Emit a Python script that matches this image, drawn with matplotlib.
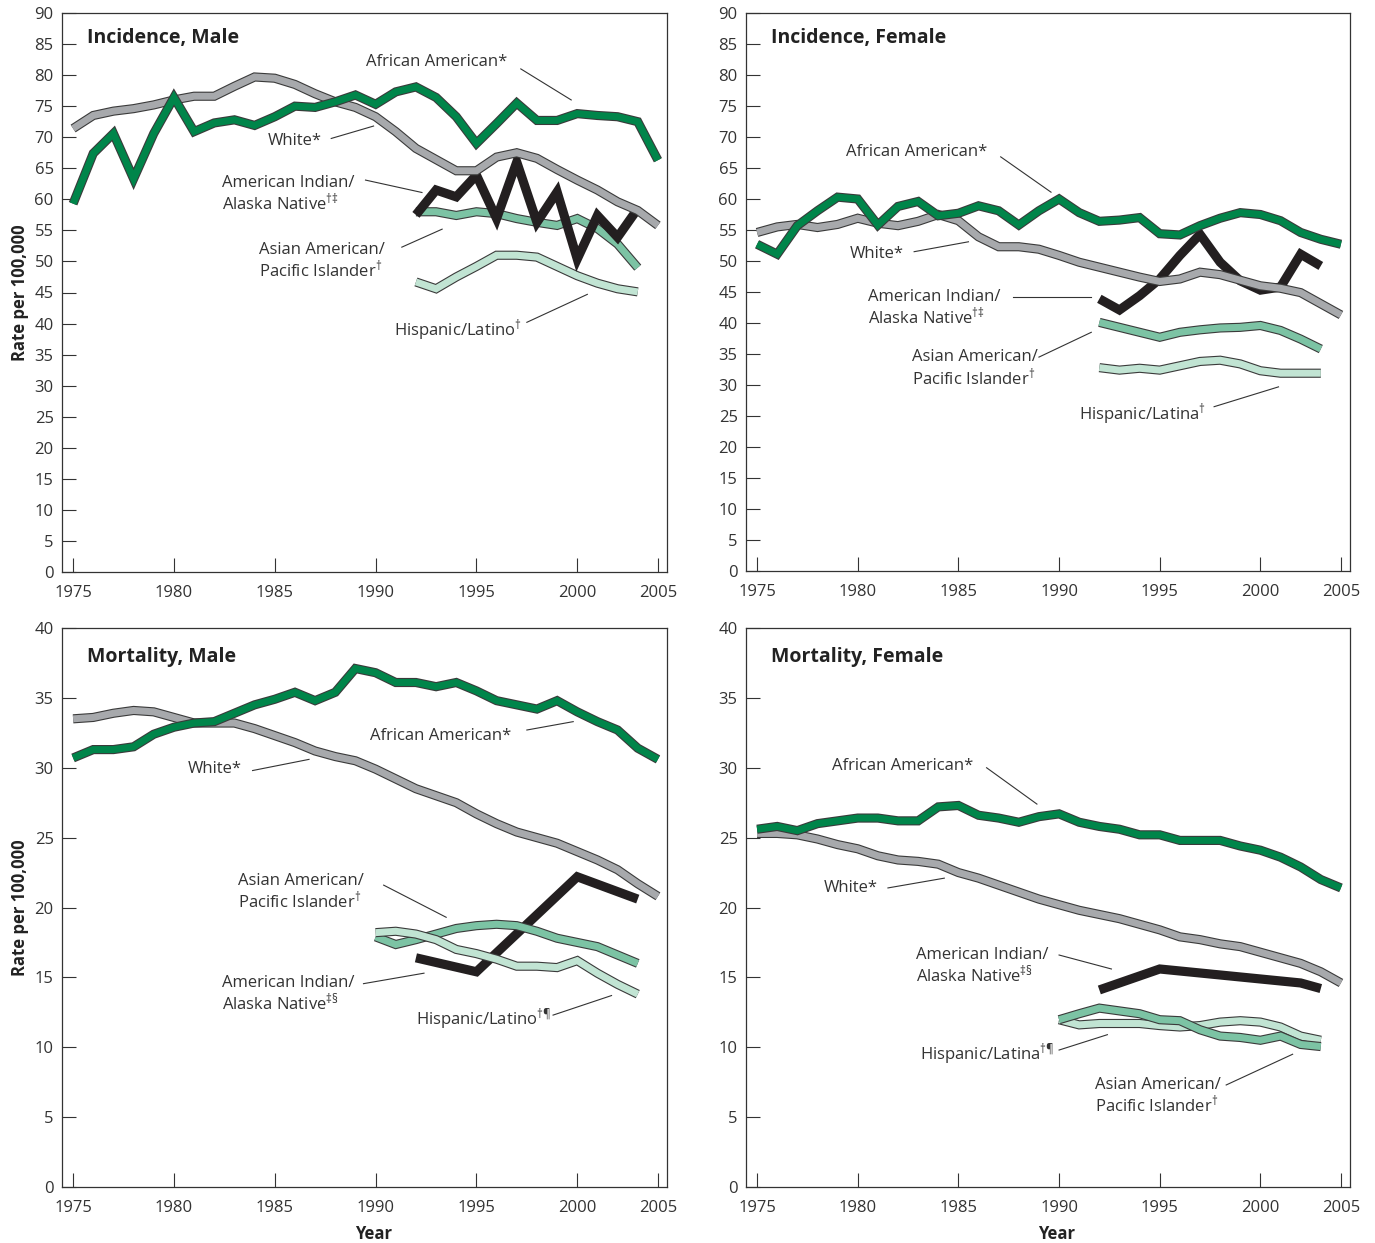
import matplotlib
matplotlib.use("Agg")
import matplotlib.pyplot as plt
import matplotlib.patheffects as pe

plt.rcParams['font.family'] = ['Open Sans', 'DejaVu Sans']
plt.rcParams['mathtext.fontset'] = 'custom'
plt.rcParams['mathtext.rm'] = 'Open Sans'
plt.rcParams['mathtext.it'] = 'Open Sans'
plt.rcParams['mathtext.bf'] = 'Open Sans:bold'

# years
years = list(range(1975, 2005))
years_92 = list(range(1992, 2004))
years_90 = list(range(1990, 2004))

# incidence, male
inc_m_aa = [59.3, 67.4, 70.6, 63.3, 70.6, 76.4, 70.9, 72.3, 72.8, 71.9, 73.3, 75.0, 74.8, 75.7, 76.8,
            75.3, 77.3, 78.1, 76.4, 73.3, 69.0, 72.2, 75.5, 72.7, 72.7, 73.8, 73.5, 73.3, 72.5, 66.3]
inc_m_wh = [71.4, 73.5, 74.2, 74.6, 75.2, 76.0, 76.6, 76.6, 78.2, 79.7, 79.5, 78.5, 77.0, 75.7, 74.8,
            73.3, 70.9, 68.2, 66.4, 64.6, 64.6, 66.8, 67.5, 66.6, 64.8, 63.1, 61.5, 59.6, 58.2, 55.8]
inc_m_ai = [57.5, 61.5, 60.4, 63.9, 56.9, 66.0, 56.3, 61.2, 50.4, 57.4, 53.9, 58.5]
inc_m_as = [58.0, 58.0, 57.4, 58.0, 57.7, 56.9, 56.3, 55.8, 56.9, 55.3, 52.8, 49.0]
inc_m_hi = [46.7, 45.6, 47.5, 49.2, 51.0, 51.0, 50.7, 49.2, 47.7, 46.5, 45.6, 45.1]

# incidence, female
inc_f_aa = [52.7, 51.1, 55.7, 58.1, 60.3, 60.0, 55.8, 58.8, 59.6, 57.3, 57.7, 58.9, 58.1, 55.8, 58.1,
            60.0, 57.8, 56.4, 56.6, 57.0, 54.4, 54.2, 55.7, 56.9, 57.8, 57.5, 56.5, 54.6, 53.5, 52.7]
inc_f_wh = [54.6, 55.5, 55.9, 55.4, 55.9, 56.9, 56.1, 55.7, 56.4, 57.5, 56.5, 53.9, 52.3, 52.3, 51.9,
            50.9, 49.8, 49.0, 48.2, 47.4, 46.7, 47.1, 48.2, 47.8, 46.9, 46.0, 45.6, 44.9, 43.1, 41.3]
inc_f_ai = [43.9, 42.1, 44.4, 47.1, 50.9, 54.3, 49.8, 46.8, 45.3, 45.8, 51.1, 49.2]
inc_f_as = [40.1, 39.3, 38.5, 37.7, 38.5, 38.9, 39.2, 39.3, 39.6, 38.8, 37.4, 35.8]
inc_f_hi = [32.8, 32.4, 32.7, 32.4, 33.1, 33.8, 34.0, 33.4, 32.3, 31.9, 31.9, 31.9]

# mortality, male
mor_m_aa = [30.7, 31.3, 31.3, 31.5, 32.4, 32.9, 33.2, 33.3, 33.9, 34.5, 34.9, 35.4, 34.8, 35.4, 37.1,
            36.8, 36.1, 36.1, 35.8, 36.1, 35.5, 34.8, 34.5, 34.2, 34.8, 34.0, 33.3, 32.7, 31.4, 30.6]
mor_m_wh = [33.5, 33.6, 33.9, 34.1, 34.0, 33.6, 33.2, 33.2, 33.2, 32.8, 32.3, 31.8, 31.2, 30.8, 30.5,
            29.9, 29.2, 28.5, 28.0, 27.5, 26.7, 26.0, 25.4, 25.0, 24.6, 24.0, 23.4, 22.7, 21.7, 20.8]
mor_m_ai_years = [1992, 1995, 2000, 2003]
mor_m_ai = [16.4, 15.4, 22.2, 20.6]
mor_m_as = [17.9, 17.35, 17.7, 18.1, 18.5, 18.7, 18.8, 18.7, 18.3, 17.8, 17.5, 17.2, 16.6, 16.0]
mor_m_hi = [18.2, 18.3, 18.1, 17.7, 17.0, 16.7, 16.3, 15.8, 15.8, 15.7, 16.2, 15.3, 14.5, 13.8]

# mortality, female
mor_f_aa = [25.6, 25.8, 25.5, 26.0, 26.2, 26.4, 26.4, 26.2, 26.2, 27.2, 27.3, 26.6, 26.4, 26.1, 26.5,
            26.7, 26.1, 25.8, 25.6, 25.2, 25.2, 24.8, 24.8, 24.8, 24.4, 24.1, 23.6, 22.9, 22.0, 21.4]
mor_f_wh = [25.3, 25.3, 25.2, 24.9, 24.5, 24.2, 23.7, 23.4, 23.3, 23.1, 22.5, 22.1, 21.6, 21.1, 20.6,
            20.2, 19.8, 19.5, 19.2, 18.8, 18.4, 17.9, 17.7, 17.4, 17.2, 16.8, 16.4, 16.0, 15.4, 14.6]
mor_f_ai_years = [1992, 1995, 2002, 2003]
mor_f_ai = [14.1, 15.6, 14.6, 14.2]
mor_f_as = [11.97, 12.4, 12.8, 12.6, 12.4, 11.97, 11.9, 11.25, 10.8, 10.7, 10.5, 10.8, 10.2, 10.05]
mor_f_hi = [11.97, 11.6, 11.7, 11.7, 11.7, 11.55, 11.45, 11.55, 11.8, 11.9, 11.8, 11.45, 10.8, 10.5]

GREEN = '#00854a'
GREY = '#a7a9ac'
BLACK = '#231f20'
MID = '#7cc3a4'
LIGHT = '#c1e4d3'
EDGE = '#3a3a3a'
TXT = '#333333'


def ribbon(ax, x, y, color):
    # thick coloured line with a thin dark outline
    ax.plot(x, y, color=color, lw=5.0, solid_joinstyle='miter', solid_capstyle='butt',
            path_effects=[pe.Stroke(linewidth=6.6, foreground=EDGE), pe.Normal()])


def black_line(ax, x, y):
    ax.plot(x, y, color=BLACK, lw=6.6, solid_joinstyle='miter', solid_capstyle='butt')


def label(ax, x, y, s, line):
    ax.text(x, y, s, ha='left', va='center', fontsize=12, color=TXT, linespacing=1.05)
    ax.plot([line[0], line[2]], [line[1], line[3]], color=TXT, lw=0.8)


def setup(ax, ymax, title, ylab=False, xlab=False):
    ax.set_xlim(1974.45, 2004.45)
    ax.set_ylim(0, ymax)
    ax.set_xticks([1975, 1980, 1985, 1990, 1995, 2000, 2004])
    ax.set_xticklabels(['1975', '1980', '1985', '1990', '1995', '2000', '2005'])
    ax.set_yticks(range(0, ymax + 1, 5))
    ax.tick_params(direction='in', length=10, width=0.8, labelsize=12, colors='#333333')
    ax.tick_params(axis='x', pad=9)
    ax.tick_params(axis='y', pad=6)
    for s in ax.spines.values():
        s.set_color('#333333')
        s.set_linewidth(0.9)
    ax.text(0.042, 0.955 if ymax == 90 else 0.948, title, transform=ax.transAxes,
            fontsize=14, fontweight='bold', color='#222222', va='center')
    if ylab:
        ax.set_ylabel('Rate per 100,000', fontsize=12, fontweight='bold', color='#222222', labelpad=4)
    if xlab:
        ax.set_xlabel('Year', fontsize=12, fontweight='bold', color='#222222', labelpad=7)
        ax.xaxis.set_label_coords(0.515, -0.068)


fig = plt.figure(figsize=(13.75, 12.43), dpi=100)
W, H = 1375, 1243
ax1 = fig.add_axes([62 / W, 1 - 572 / H, 605 / W, 559 / H])
ax2 = fig.add_axes([746 / W, 1 - 571 / H, 604 / W, 558 / H])
ax3 = fig.add_axes([62 / W, 1 - 1187 / H, 605 / W, 559 / H])
ax4 = fig.add_axes([746 / W, 1 - 1187 / H, 604 / W, 559 / H])

# Incidence, Male
ribbon(ax1, years_92, inc_m_hi, LIGHT)
ribbon(ax1, years_92, inc_m_as, MID)
black_line(ax1, years_92, inc_m_ai)
ribbon(ax1, years, inc_m_wh, GREY)
ribbon(ax1, years, inc_m_aa, GREEN)
setup(ax1, 90, 'Incidence, Male', ylab=True)
label(ax1, 1989.5, 82.1, 'African American*', (1997.2, 81.0, 1999.7, 76.0))
label(ax1, 1984.65, 69.4, 'White*', (1987.8, 69.8, 1989.9, 71.8))
label(ax1, 1982.4, 60.8, 'American Indian/\nAlaska Native$^{†‡}$', (1989.5, 63.1, 1992.3, 61.1))
label(ax1, 1984.2, 50.0, 'Asian American/\nPacific Islander$^{†}$', (1991.3, 52.3, 1993.3, 55.2))
label(ax1, 1990.9, 39.0, 'Hispanic/Latino$^{†}$', (1997.5, 40.2, 2000.5, 44.7))

# Incidence, Female
ribbon(ax2, years_92, inc_f_hi, LIGHT)
ribbon(ax2, years_92, inc_f_as, MID)
black_line(ax2, years_92, inc_f_ai)
ribbon(ax2, years, inc_f_wh, GREY)
ribbon(ax2, years, inc_f_aa, GREEN)
setup(ax2, 90, 'Incidence, Female')
label(ax2, 1979.4, 67.6, 'African American*', (1987.1, 66.8, 1989.6, 61.1))
label(ax2, 1979.6, 51.1, 'White*', (1982.8, 51.5, 1985.5, 53.1))
label(ax2, 1980.5, 42.4, 'American Indian/\nAlaska Native$^{†‡}$', (1987.7, 44.2, 1991.6, 44.2))
label(ax2, 1982.7, 32.6, 'Asian American/\nPacific Islander$^{†}$', (1989.0, 34.5, 1991.6, 38.5))
label(ax2, 1991.0, 25.3, 'Hispanic/Latina$^{†}$', (1997.7, 26.5, 2000.9, 29.7))

# Mortality, Male
black_line(ax3, mor_m_ai_years, mor_m_ai)
ribbon(ax3, years_90, mor_m_as, MID)
ribbon(ax3, years_90, mor_m_hi, LIGHT)
ribbon(ax3, years, mor_m_wh, GREY)
ribbon(ax3, years, mor_m_aa, GREEN)
setup(ax3, 40, 'Mortality, Male', ylab=True, xlab=True)
label(ax3, 1989.7, 32.3, 'African American*', (1997.5, 32.7, 1999.8, 33.3))
label(ax3, 1980.7, 29.9, 'White*', (1983.9, 29.8, 1986.7, 30.6))
label(ax3, 1983.2, 21.1, 'Asian American/\nPacific Islander$^{†}$', (1990.4, 21.6, 1993.5, 19.3))
label(ax3, 1982.4, 13.8, 'American Indian/\nAlaska Native$^{‡§}$', (1989.4, 14.55, 1992.4, 15.3))
label(ax3, 1992.0, 12.0, 'Hispanic/Latino$^{†¶}$', (1998.8, 12.3, 2001.7, 13.7))

# Mortality, Female
black_line(ax4, mor_f_ai_years, mor_f_ai)
ribbon(ax4, years_90, mor_f_hi, LIGHT)
ribbon(ax4, years_90, mor_f_as, MID)
ribbon(ax4, years, mor_f_wh, GREY)
ribbon(ax4, years, mor_f_aa, GREEN)
setup(ax4, 40, 'Mortality, Female', xlab=True)
label(ax4, 1978.7, 30.1, 'African American*', (1986.4, 30.0, 1988.9, 27.4))
label(ax4, 1978.3, 21.4, 'White*', (1981.5, 21.4, 1984.3, 22.1))
label(ax4, 1982.9, 15.8, 'American Indian/\nAlaska Native$^{‡§}$', (1990.0, 16.6, 1992.6, 15.6))
label(ax4, 1983.1, 9.5, 'Hispanic/Latina$^{†¶}$', (1990.0, 9.8, 1992.4, 10.9))
label(ax4, 1991.8, 6.5, 'Asian American/\nPacific Islander$^{†}$', (1998.3, 7.3, 2001.6, 9.5))

fig.savefig('out.png', dpi=100)
